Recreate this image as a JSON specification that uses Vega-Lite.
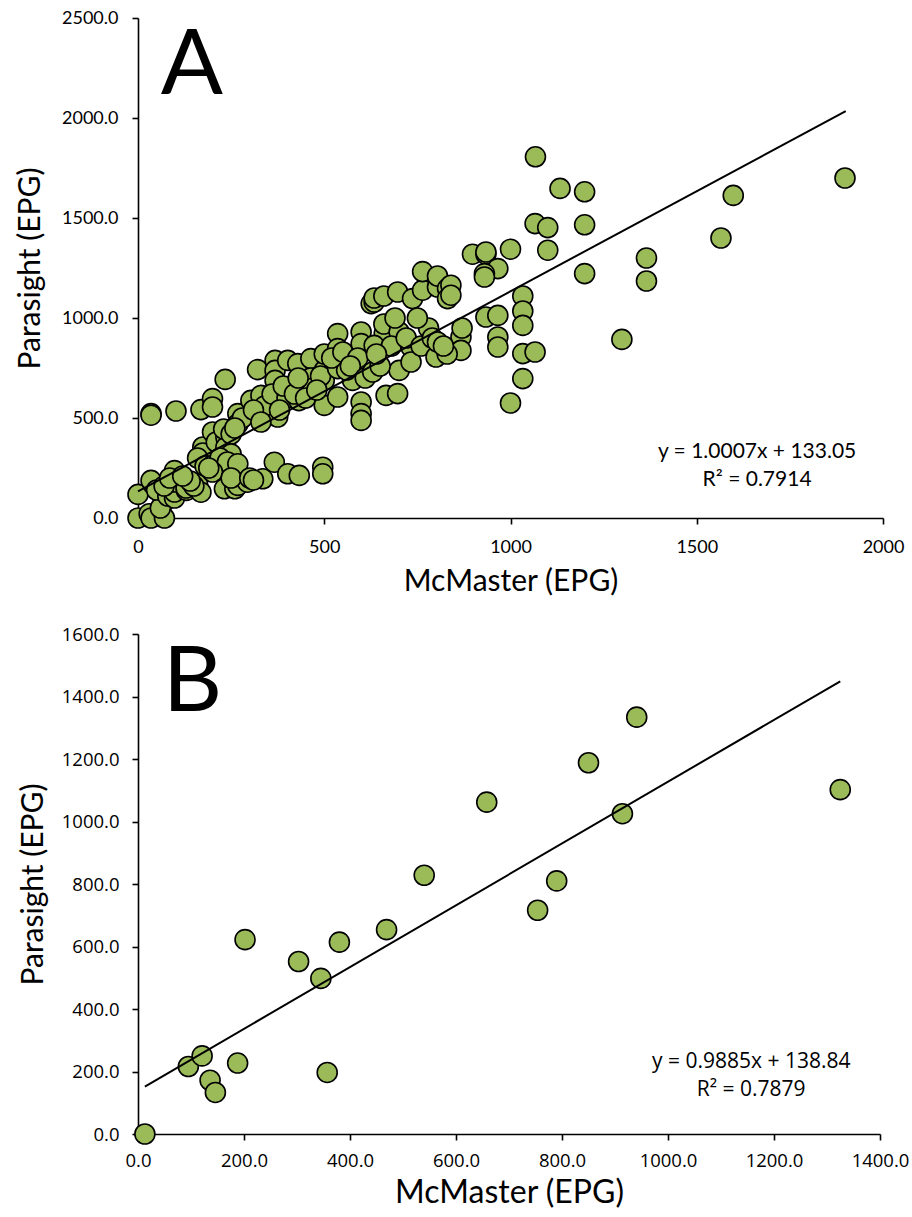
{
  "$schema": "https://vega.github.io/schema/vega-lite/v6.json",
  "background": "white",
  "padding": {"left": 15, "top": 9, "right": 10, "bottom": 5},
  "spacing": 116,
  "bounds": "flush",
  "config": {
    "view": {"stroke": null},
    "axis": {
      "grid": false,
      "domainColor": "#000",
      "domainWidth": 1.6,
      "tickColor": "#000",
      "tickWidth": 1.6,
      "tickSize": 6,
      "labelColor": "#000",
      "titleColor": "#000",
      "labelFont": "Lato",
      "titleFont": "Lato",
      "titleFontWeight": "normal",
      "labelFlush": false,
      "labelOverlap": false
    }
  },
  "datasets": {
    "ptsA": [
      {"mc": 0, "ps": 0}, {"mc": 0, "ps": 118}, {"mc": 30, "ps": 21}, {"mc": 35, "ps": 0}, {"mc": 66, "ps": 71},
      {"mc": 71, "ps": 0}, {"mc": 60, "ps": 50}, {"mc": 40, "ps": 170}, {"mc": 35, "ps": 188}, {"mc": 50, "ps": 140},
      {"mc": 80, "ps": 110}, {"mc": 98, "ps": 100}, {"mc": 98, "ps": 130}, {"mc": 98, "ps": 204}, {"mc": 98, "ps": 237},
      {"mc": 100, "ps": 180}, {"mc": 70, "ps": 160}, {"mc": 85, "ps": 200}, {"mc": 130, "ps": 138}, {"mc": 129, "ps": 150},
      {"mc": 160, "ps": 171}, {"mc": 169, "ps": 129}, {"mc": 150, "ps": 160}, {"mc": 140, "ps": 185}, {"mc": 120, "ps": 210},
      {"mc": 35, "ps": 522}, {"mc": 35, "ps": 514}, {"mc": 102, "ps": 535}, {"mc": 169, "ps": 542}, {"mc": 200, "ps": 597},
      {"mc": 200, "ps": 555}, {"mc": 234, "ps": 693},
      {"mc": 174, "ps": 355}, {"mc": 174, "ps": 325}, {"mc": 160, "ps": 300}, {"mc": 180, "ps": 260}, {"mc": 200, "ps": 263},
      {"mc": 200, "ps": 430}, {"mc": 210, "ps": 380}, {"mc": 236, "ps": 404}, {"mc": 236, "ps": 354}, {"mc": 230, "ps": 445},
      {"mc": 250, "ps": 420}, {"mc": 268, "ps": 522}, {"mc": 268, "ps": 470}, {"mc": 280, "ps": 500}, {"mc": 260, "ps": 450},
      {"mc": 250, "ps": 320}, {"mc": 220, "ps": 300}, {"mc": 240, "ps": 280}, {"mc": 268, "ps": 271}, {"mc": 200, "ps": 230},
      {"mc": 190, "ps": 250},
      {"mc": 232, "ps": 146}, {"mc": 260, "ps": 146}, {"mc": 268, "ps": 163}, {"mc": 294, "ps": 179}, {"mc": 335, "ps": 196},
      {"mc": 366, "ps": 279}, {"mc": 402, "ps": 221}, {"mc": 433, "ps": 213}, {"mc": 496, "ps": 254}, {"mc": 496, "ps": 221},
      {"mc": 250, "ps": 200}, {"mc": 300, "ps": 200}, {"mc": 310, "ps": 190},
      {"mc": 303, "ps": 588}, {"mc": 330, "ps": 613}, {"mc": 335, "ps": 505}, {"mc": 375, "ps": 505}, {"mc": 321, "ps": 742},
      {"mc": 368, "ps": 788}, {"mc": 368, "ps": 738}, {"mc": 368, "ps": 688}, {"mc": 340, "ps": 560}, {"mc": 360, "ps": 620},
      {"mc": 400, "ps": 600}, {"mc": 390, "ps": 660}, {"mc": 310, "ps": 540}, {"mc": 330, "ps": 480}, {"mc": 380, "ps": 540},
      {"mc": 402, "ps": 788}, {"mc": 429, "ps": 772}, {"mc": 464, "ps": 797}, {"mc": 438, "ps": 658}, {"mc": 432, "ps": 587},
      {"mc": 464, "ps": 700}, {"mc": 470, "ps": 650}, {"mc": 420, "ps": 620}, {"mc": 450, "ps": 600}, {"mc": 500, "ps": 738},
      {"mc": 500, "ps": 688}, {"mc": 500, "ps": 563}, {"mc": 490, "ps": 710}, {"mc": 480, "ps": 640}, {"mc": 430, "ps": 700},
      {"mc": 500, "ps": 820},
      {"mc": 536, "ps": 922}, {"mc": 536, "ps": 847}, {"mc": 536, "ps": 747}, {"mc": 536, "ps": 605}, {"mc": 576, "ps": 688},
      {"mc": 560, "ps": 740}, {"mc": 520, "ps": 800}, {"mc": 550, "ps": 830}, {"mc": 599, "ps": 580}, {"mc": 599, "ps": 522},
      {"mc": 599, "ps": 488}, {"mc": 599, "ps": 930}, {"mc": 599, "ps": 872}, {"mc": 590, "ps": 800}, {"mc": 570, "ps": 760},
      {"mc": 610, "ps": 700},
      {"mc": 626, "ps": 1072}, {"mc": 634, "ps": 1080}, {"mc": 634, "ps": 1100}, {"mc": 661, "ps": 922}, {"mc": 634, "ps": 863},
      {"mc": 630, "ps": 730}, {"mc": 660, "ps": 970}, {"mc": 660, "ps": 1110}, {"mc": 666, "ps": 613}, {"mc": 697, "ps": 622},
      {"mc": 701, "ps": 738}, {"mc": 701, "ps": 930}, {"mc": 680, "ps": 860}, {"mc": 650, "ps": 760}, {"mc": 640, "ps": 820},
      {"mc": 690, "ps": 1000},
      {"mc": 697, "ps": 1130}, {"mc": 737, "ps": 1097}, {"mc": 764, "ps": 1139}, {"mc": 764, "ps": 1232}, {"mc": 733, "ps": 855},
      {"mc": 733, "ps": 780}, {"mc": 720, "ps": 900}, {"mc": 760, "ps": 860}, {"mc": 780, "ps": 950}, {"mc": 750, "ps": 1000},
      {"mc": 790, "ps": 900},
      {"mc": 804, "ps": 1155}, {"mc": 804, "ps": 1210}, {"mc": 831, "ps": 1147}, {"mc": 831, "ps": 1097}, {"mc": 840, "ps": 1164},
      {"mc": 840, "ps": 1114}, {"mc": 867, "ps": 905}, {"mc": 867, "ps": 838}, {"mc": 800, "ps": 805}, {"mc": 804, "ps": 880},
      {"mc": 830, "ps": 820}, {"mc": 820, "ps": 860}, {"mc": 870, "ps": 950},
      {"mc": 898, "ps": 1319}, {"mc": 934, "ps": 1319}, {"mc": 934, "ps": 1330}, {"mc": 966, "ps": 1247}, {"mc": 930, "ps": 1222},
      {"mc": 930, "ps": 1205}, {"mc": 1000, "ps": 1344}, {"mc": 934, "ps": 1005}, {"mc": 966, "ps": 1013}, {"mc": 966, "ps": 905},
      {"mc": 966, "ps": 855}, {"mc": 1033, "ps": 1110}, {"mc": 1033, "ps": 1035}, {"mc": 1033, "ps": 963}, {"mc": 1033, "ps": 822},
      {"mc": 1066, "ps": 830}, {"mc": 1033, "ps": 697}, {"mc": 1000, "ps": 575}, {"mc": 1067, "ps": 1806}, {"mc": 1066, "ps": 1472},
      {"mc": 1100, "ps": 1452}, {"mc": 1100, "ps": 1339},
      {"mc": 1133, "ps": 1648}, {"mc": 1199, "ps": 1631}, {"mc": 1199, "ps": 1466}, {"mc": 1199, "ps": 1222}, {"mc": 1299, "ps": 893},
      {"mc": 1365, "ps": 1300}, {"mc": 1365, "ps": 1185}, {"mc": 1565, "ps": 1400}, {"mc": 1598, "ps": 1613}, {"mc": 1898, "ps": 1700}
    ],
    "lineA": [{"mc": 0, "ps": 133.05}, {"mc": 1900, "ps": 2034.4}],
    "eqA": [
      {"mc": 1662, "ps": 328, "label": "y = 1.0007x + 133.05"},
      {"mc": 1662, "ps": 188, "label": "R² = 0.7914"}
    ],
    "letA": [{"mc": 145, "ps": 2120, "label": "A"}],
    "ptsB": [
      {"mc": 13, "ps": 0}, {"mc": 95, "ps": 216}, {"mc": 121, "ps": 250}, {"mc": 136, "ps": 172}, {"mc": 146, "ps": 133},
      {"mc": 188, "ps": 227}, {"mc": 202, "ps": 622}, {"mc": 303, "ps": 552}, {"mc": 345, "ps": 498}, {"mc": 357, "ps": 197},
      {"mc": 380, "ps": 614}, {"mc": 469, "ps": 654}, {"mc": 540, "ps": 828}, {"mc": 754, "ps": 716}, {"mc": 658, "ps": 1062},
      {"mc": 941, "ps": 1334}, {"mc": 850, "ps": 1188}, {"mc": 914, "ps": 1025}, {"mc": 790, "ps": 810}, {"mc": 1325, "ps": 1102}
    ],
    "lineB": [{"mc": 13, "ps": 151.7}, {"mc": 1325, "ps": 1448.6}],
    "eqB": [
      {"mc": 1157, "ps": 231, "label": "y = 0.9885x + 138.84"},
      {"mc": 1157, "ps": 142, "label": "R² = 0.7879"}
    ],
    "letB": [{"mc": 103, "ps": 1354, "label": "B"}]
  },
  "vconcat": [
    {
      "width": 745,
      "height": 500,
      "layer": [
        {
          "data": {"name": "ptsA"},
          "mark": {"type": "point", "shape": "circle", "filled": true, "fill": "#9BBB59", "stroke": "#000", "strokeWidth": 1.6, "size": 400, "opacity": 1},
          "encoding": {
            "x": {"field": "mc", "type": "quantitative", "scale": {"domain": [0, 2000], "nice": false},
                  "axis": {"values": [0, 500, 1000, 1500, 2000], "format": "d", "title": "McMaster (EPG)", "labelFontSize": 18, "labelPadding": 14, "titleFontSize": 30, "titlePadding": 10}},
            "y": {"field": "ps", "type": "quantitative", "scale": {"domain": [0, 2500], "nice": false},
                  "axis": {"values": [0, 500, 1000, 1500, 2000, 2500], "format": ".1f", "title": "Parasight (EPG)", "labelFontSize": 18, "labelPadding": 14, "titleFontSize": 30, "titlePadding": 16}}
          }
        },
        {
          "data": {"name": "lineA"},
          "mark": {"type": "line", "color": "#000", "strokeWidth": 2},
          "encoding": {"x": {"field": "mc", "type": "quantitative"}, "y": {"field": "ps", "type": "quantitative"}}
        },
        {
          "data": {"name": "eqA"},
          "mark": {"type": "text", "font": "Lato", "fontSize": 21, "color": "#000", "align": "center", "baseline": "middle"},
          "encoding": {"x": {"field": "mc", "type": "quantitative"}, "y": {"field": "ps", "type": "quantitative"}, "text": {"field": "label"}}
        },
        {
          "data": {"name": "letA"},
          "mark": {"type": "text", "font": "Lato", "fontSize": 92, "color": "#000", "align": "center", "baseline": "alphabetic"},
          "encoding": {"x": {"field": "mc", "type": "quantitative"}, "y": {"field": "ps", "type": "quantitative"}, "text": {"field": "label"}}
        }
      ]
    },
    {
      "width": 742,
      "height": 500,
      "layer": [
        {
          "data": {"name": "ptsB"},
          "mark": {"type": "point", "shape": "circle", "filled": true, "fill": "#9BBB59", "stroke": "#000", "strokeWidth": 1.6, "size": 400, "opacity": 1},
          "encoding": {
            "x": {"field": "mc", "type": "quantitative", "scale": {"domain": [0, 1400], "nice": false},
                  "axis": {"values": [0, 200, 400, 600, 800, 1000, 1200, 1400], "format": ".1f", "title": "McMaster (EPG)", "labelFont": "Open Sans", "labelFontSize": 18.5, "labelPadding": 11, "titleFontSize": 32, "titlePadding": 8}},
            "y": {"field": "ps", "type": "quantitative", "scale": {"domain": [0, 1600], "nice": false},
                  "axis": {"values": [0, 200, 400, 600, 800, 1000, 1200, 1400, 1600], "format": ".1f", "title": "Parasight (EPG)", "labelFont": "Open Sans", "labelFontSize": 18.5, "labelPadding": 13, "titleFontSize": 30, "titlePadding": 13}}
          }
        },
        {
          "data": {"name": "lineB"},
          "mark": {"type": "line", "color": "#000", "strokeWidth": 2},
          "encoding": {"x": {"field": "mc", "type": "quantitative"}, "y": {"field": "ps", "type": "quantitative"}}
        },
        {
          "data": {"name": "eqB"},
          "mark": {"type": "text", "font": "Open Sans", "fontSize": 21, "color": "#000", "align": "center", "baseline": "middle"},
          "encoding": {"x": {"field": "mc", "type": "quantitative"}, "y": {"field": "ps", "type": "quantitative"}, "text": {"field": "label"}}
        },
        {
          "data": {"name": "letB"},
          "mark": {"type": "text", "font": "Lato", "fontSize": 92, "color": "#000", "align": "center", "baseline": "alphabetic"},
          "encoding": {"x": {"field": "mc", "type": "quantitative"}, "y": {"field": "ps", "type": "quantitative"}, "text": {"field": "label"}}
        }
      ]
    }
  ]
}
